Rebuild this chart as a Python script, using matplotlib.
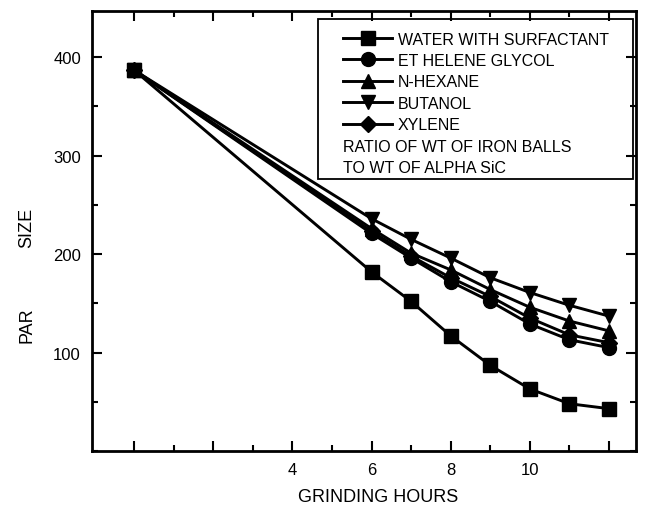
import matplotlib
matplotlib.use("Agg")
import matplotlib.pyplot as plt
from matplotlib.patches import Rectangle
from matplotlib.ticker import MultipleLocator, FixedLocator

plt.rcParams['font.family'] = ['Liberation Sans', 'DejaVu Sans']

hours = [0, 6, 7, 8, 9, 10, 11, 12]
water_surfactant = [387, 182, 152, 117, 87, 63, 48, 43]
ethylene_glycol = [387, 221, 196, 172, 152, 129, 113, 105]
n_hexane = [387, 226, 201, 184, 164, 146, 132, 122]
butanol = [387, 236, 215, 196, 176, 161, 148, 137]
xylene = [387, 223, 198, 176, 157, 135, 118, 110]

series = [
    ("WATER WITH SURFACTANT", water_surfactant, 's', 9.5),
    ("ET HELENE GLYCOL", ethylene_glycol, 'o', 10),
    ("N-HEXANE", n_hexane, '^', 10.5),
    ("BUTANOL", butanol, 'v', 10.5),
    ("XYLENE", xylene, 'D', 8.5),
]
note_lines = ["RATIO OF WT OF IRON BALLS", "TO WT OF ALPHA SiC"]
x_tick_labels = {4: "4", 6: "6", 8: "8", 10: "10"}
y_ticks = [100, 200, 300, 400]

fig = plt.figure(figsize=(6.45, 5.10), dpi=100)
ax = fig.add_axes([92/645, 1-452/510, (636-92)/645, (452-12)/510])

for label, vals, mk, ms in series:
    ax.plot(hours, vals, color='black', lw=2.1, marker=mk, ms=ms,
            markerfacecolor='black', markeredgecolor='black', label=label)

ax.set_xlim(-1.06, 12.68)
ax.set_ylim(0, 447)

ax.xaxis.set_major_locator(FixedLocator([0, 2, 4, 6, 8, 10, 12]))
ax.xaxis.set_minor_locator(FixedLocator([1, 3, 5, 7, 9, 11]))
ax.set_xticklabels([x_tick_labels.get(t, "") for t in [0, 2, 4, 6, 8, 10, 12]])
ax.yaxis.set_major_locator(FixedLocator(y_ticks))
ax.yaxis.set_minor_locator(MultipleLocator(50))

ax.tick_params(which='both', direction='in', top=True, right=True,
               width=1.5, labelsize=12, color='black')
ax.tick_params(which='major', length=7, pad=8)
ax.tick_params(which='minor', length=4)
for sp in ax.spines.values():
    sp.set_linewidth(2.0)

ax.set_xlabel("GRINDING HOURS", fontsize=13)
ax.xaxis.set_label_coords(0.526, -0.085)
fig.text(27/645, 1-325/510, "PAR", rotation=90, fontsize=13,
         ha='center', va='center')
fig.text(27/645, 1-228/510, "SIZE", rotation=90, fontsize=13,
         ha='center', va='center')

leg = ax.legend(loc='upper left', bbox_to_anchor=(0.461, 0.953),
                frameon=False, fontsize=11.5, handlelength=3.1,
                handletextpad=0.35, labelspacing=0.4, borderpad=0,
                borderaxespad=0, markerscale=1.0)

ax.text(0.461, 0.691, note_lines[0], transform=ax.transAxes, fontsize=11.5,
        ha='left', va='center')
ax.text(0.461, 0.645, note_lines[1], transform=ax.transAxes, fontsize=11.5,
        ha='left', va='center')
ax.add_patch(Rectangle((0.415, 0.618), 0.994-0.415, 0.982-0.618,
                       transform=ax.transAxes, fill=False, lw=1.3,
                       edgecolor='black', zorder=5))

fig.savefig("out.png", dpi=100)
